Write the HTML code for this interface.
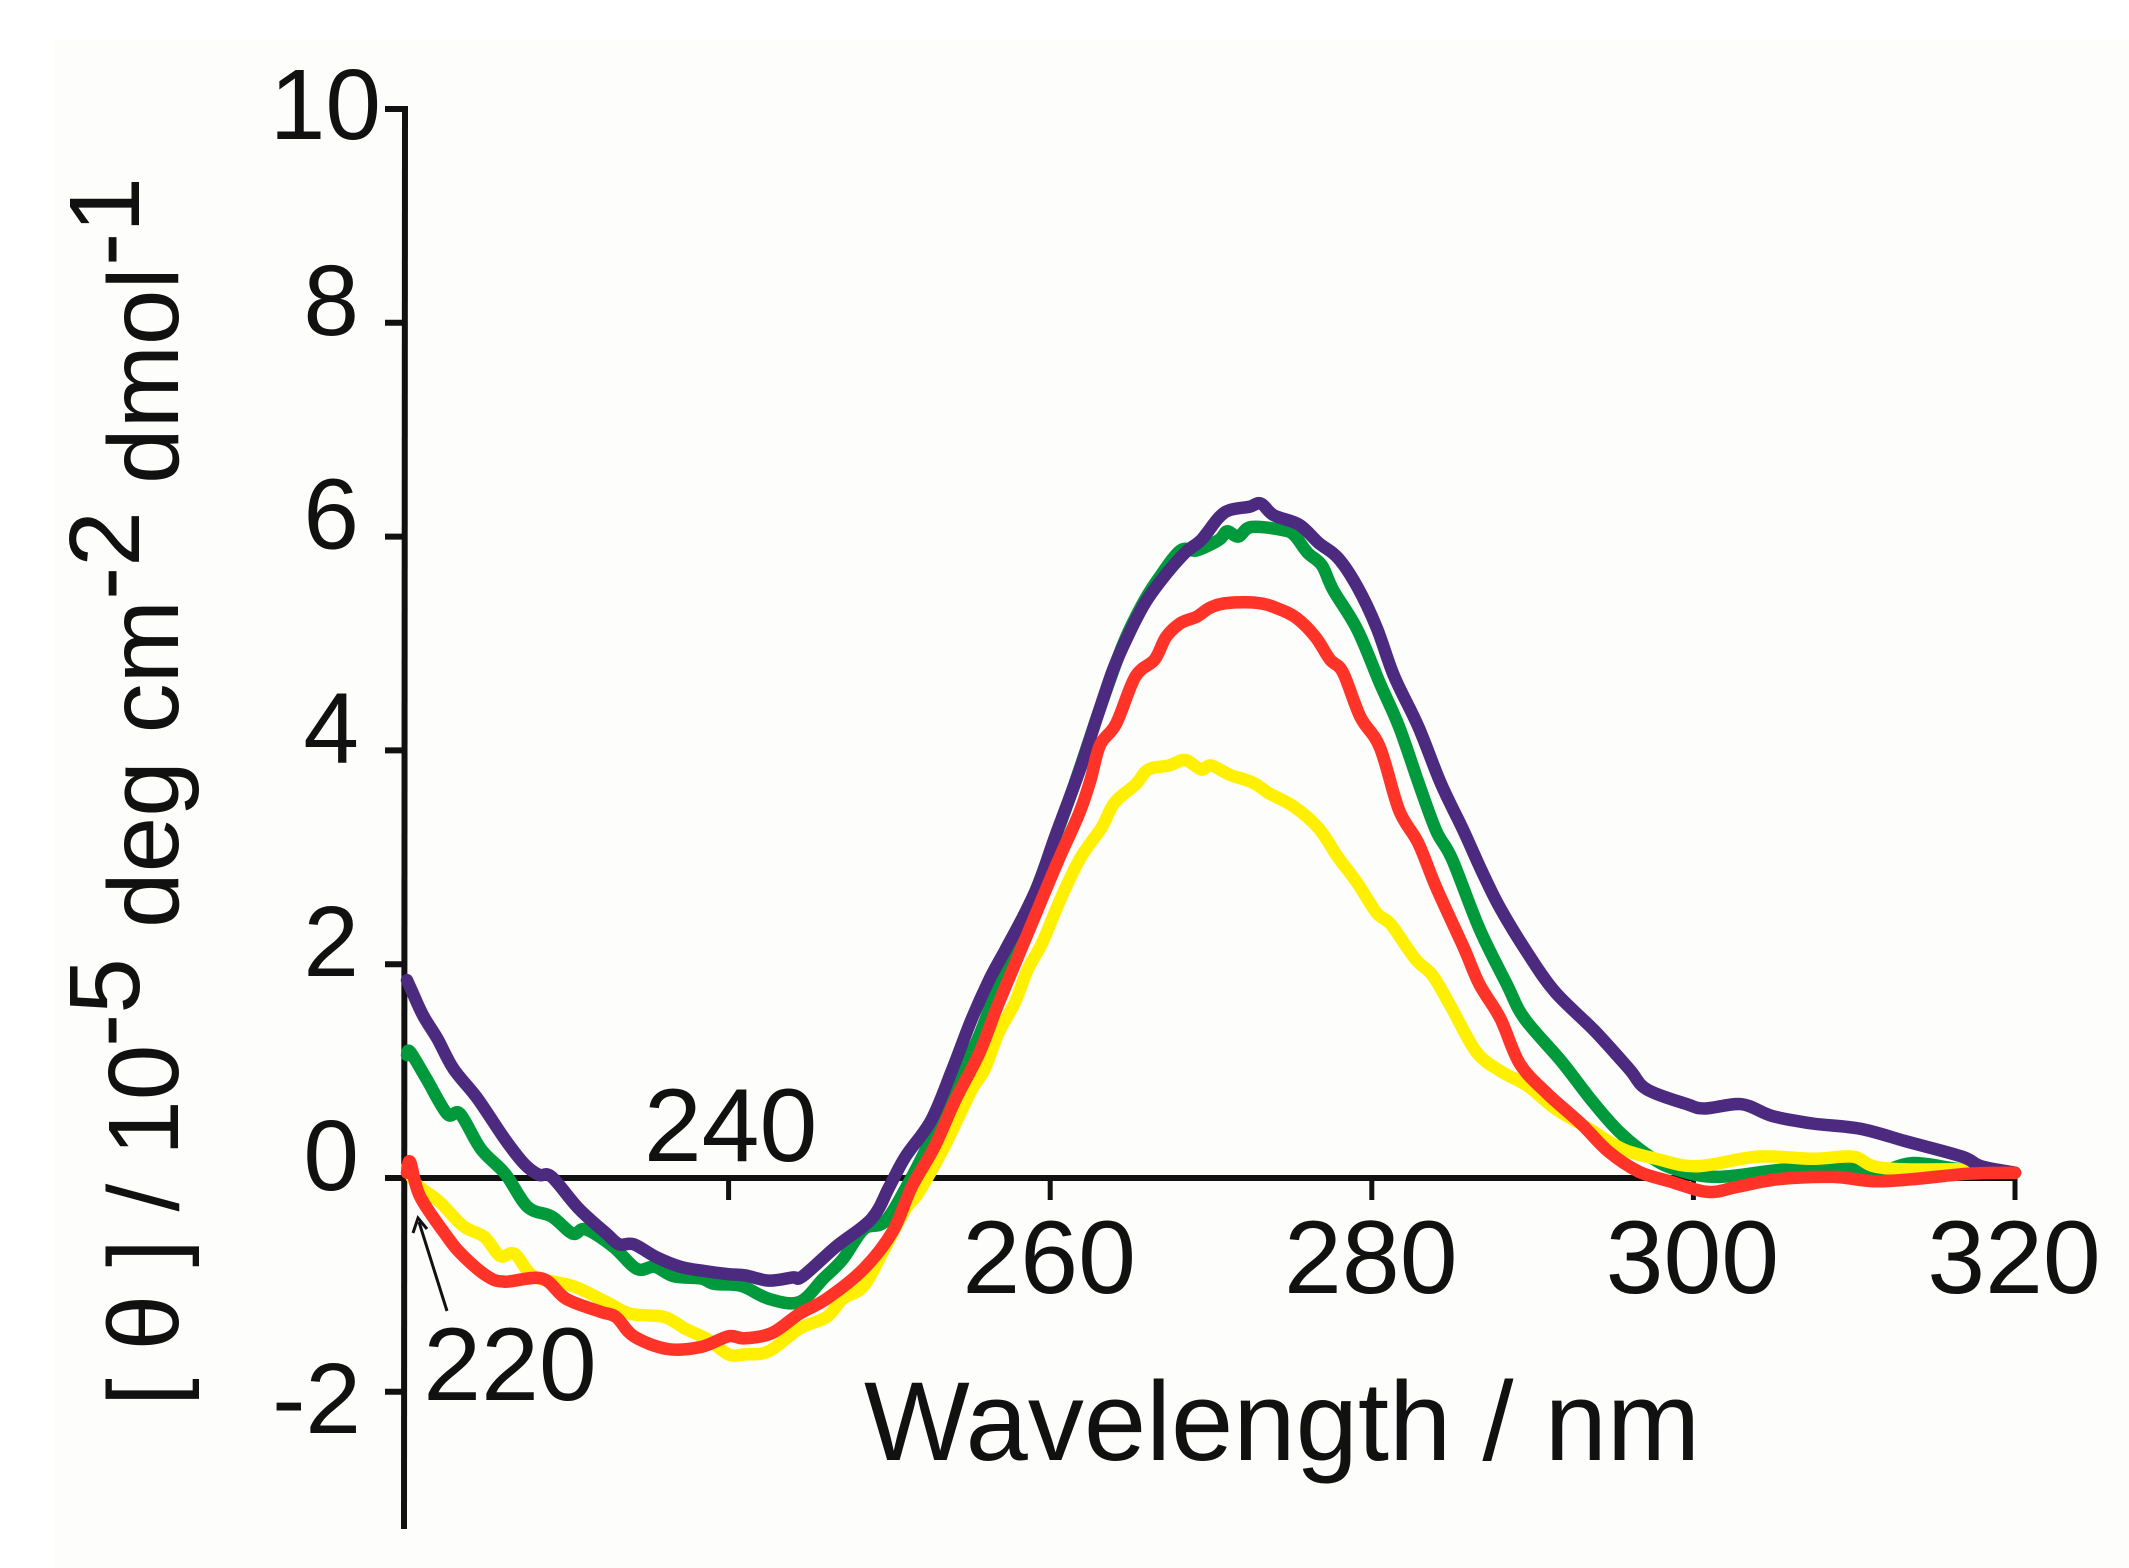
<!DOCTYPE html>
<html lang="en">
<head>
<meta charset="utf-8">
<title>CD spectra</title>
<style>
html,body{margin:0;padding:0;background:#fff;}
svg{display:block;}
text{font-family:"Liberation Sans",sans-serif;fill:#111;}
</style>
</head>
<body>
<svg id="chart" xmlns="http://www.w3.org/2000/svg" width="2129" height="1568" viewBox="0 0 2129 1568">
  <rect x="54" y="40" width="2075" height="1528" fill="#fdfdfb"/>
  <g id="series"></g>
  <g id="axes"></g>
  <g font-size="100">
    <text font-size="100" transform="translate(178,1406) rotate(-90)">[ θ ] / 10</text>
    <text transform="translate(139,1047) rotate(-90)">-5</text>
    <text transform="translate(178,928) rotate(-90)">deg cm</text>
    <text transform="translate(139,600) rotate(-90)">-2</text>
    <text transform="translate(178,484) rotate(-90)">dmol</text>
    <text transform="translate(139,266) rotate(-90)">-1</text>
  </g>
  <text x="864" y="1460" font-size="112">Wavelength / nm</text>
  <g fill="none" stroke="#111" stroke-width="3">
    <path d="M447 1311 L419 1222"/>
    <path d="M413 1233 L418 1218 L427 1229"/>
  </g>
</svg>
<script>
const xTicks = [220, 240, 260, 280, 300, 320];
const yTicks = [10, 8, 6, 4, 2, 0, -2];
const purpleWl = [220,220.3,221,221.9,222.9,224.4,226.1,227.3,228.2,229,230.7,232.4,233.2,234.1,235.5,237,238.5,240,241,242.5,244,244.6,246.7,248.9,250,251,252.6,253.9,255.1,256.2,257.2,258.3,259.3,260.3,261.8,263,263.9,264.8,265.9,267,268.4,269.4,270.5,271.2,272.4,273.1,273.9,275.5,276.7,277.9,279.1,280.3,281.4,282.9,284.3,285.7,286.9,288,289.7,291.4,293.9,296,297.1,299.6,300.7,303,304.9,307.4,310.4,313.3,316.7,317.9,320];
const purpleTheta = [1.85,1.75,1.52,1.30,1.02,0.74,0.36,0.13,0.03,0.01,-0.29,-0.52,-0.62,-0.62,-0.74,-0.83,-0.87,-0.90,-0.91,-0.96,-0.93,-0.92,-0.64,-0.38,-0.08,0.20,0.54,1.01,1.48,1.85,2.13,2.44,2.76,3.19,3.80,4.35,4.75,5.06,5.38,5.61,5.85,5.97,6.18,6.25,6.28,6.31,6.20,6.11,5.94,5.80,5.53,5.15,4.69,4.22,3.69,3.25,2.85,2.52,2.10,1.74,1.37,1.02,0.83,0.69,0.65,0.69,0.58,0.51,0.46,0.34,0.20,0.11,0.05];
const greenWl = [220,220.2,221.2,222.5,223.3,224.6,226.1,227.5,229,230.3,231.1,232.8,234.3,235.4,236.6,238.3,239.1,240.8,242.5,244.4,245.9,247.1,248.4,249.7,251,252.7,254,255.5,257,258.5,260,261.5,263,264.5,265.7,266.7,268.1,269.1,270.5,271,271.7,272.5,274.5,275.2,276,276.9,277.6,279.1,280.5,281.7,282.9,284,285,286.7,288.4,289.5,291.8,293.7,295.4,297.3,298.9,301.5,305.7,309.9,311.6,313.7,316.7,320];
const greenTheta = [1.15,1.18,0.93,0.60,0.60,0.27,0.04,-0.27,-0.36,-0.52,-0.48,-0.64,-0.85,-0.83,-0.92,-0.94,-0.99,-1.01,-1.13,-1.16,-0.94,-0.76,-0.48,-0.41,-0.10,0.40,0.85,1.30,1.90,2.45,3.05,3.68,4.35,4.98,5.36,5.60,5.87,5.87,5.97,6.05,6.00,6.09,6.06,6.01,5.85,5.73,5.50,5.13,4.63,4.22,3.70,3.25,2.98,2.33,1.81,1.49,1.09,0.72,0.43,0.20,0.08,0.01,0.08,0.09,0.06,0.14,0.08,0.05];
const yellowWl = [220,220.6,222,223.5,224.8,225.8,226.7,227.9,230.3,232.4,233.9,236,237.3,238.7,240,241,242.5,244.4,246.1,247.1,248.4,249.7,251,251.8,253.4,255.1,255.9,256.8,257.8,258.6,259.5,260.7,261.9,263.2,264,265.3,266.1,267.4,268.4,269.4,270,271.2,272.6,273.6,275.2,276.7,277.9,279.1,280.3,281.2,282.7,283.8,285,286.5,288,289.7,291.4,293.5,295.6,297.7,300.2,304,307.4,309.9,311.2,313.3,317,320];
const yellowTheta = [0.10,-0.06,-0.22,-0.45,-0.55,-0.73,-0.71,-0.92,-1.01,-1.16,-1.27,-1.30,-1.41,-1.51,-1.65,-1.65,-1.62,-1.41,-1.30,-1.13,-1.01,-0.66,-0.29,-0.14,0.29,0.82,1.01,1.36,1.64,1.95,2.20,2.63,3.00,3.28,3.51,3.68,3.82,3.86,3.91,3.82,3.86,3.77,3.70,3.60,3.47,3.27,3.00,2.76,2.48,2.37,2.05,1.89,1.58,1.18,1.00,0.86,0.65,0.46,0.27,0.18,0.11,0.20,0.18,0.20,0.11,0.08,0.08,0.05];
const redWl = [220,220.2,220.8,222.5,223.5,225,226.1,228.4,229.9,232,233,234.1,236.2,238.3,240,241,242.7,244.4,246.1,248.4,250.2,251.4,252.8,254.1,255.6,256.7,258,259.3,260.5,261.8,262.5,263.1,264.1,265.3,266.5,267.2,268.1,269.1,270,271.1,272.9,274.1,275.3,276.5,277.4,278.2,279.3,280.5,281.7,282.9,284,285.7,286.7,288,289.2,290.9,293,294.7,296.6,298.5,300.9,302.8,305.3,308.7,311.2,313.7,317.1,320];
const redTheta = [0.05,0.15,-0.17,-0.55,-0.73,-0.92,-0.97,-0.94,-1.13,-1.25,-1.30,-1.48,-1.60,-1.58,-1.48,-1.50,-1.45,-1.27,-1.13,-0.85,-0.50,-0.08,0.29,0.73,1.17,1.60,2.07,2.54,2.97,3.41,3.72,4.05,4.25,4.69,4.85,5.06,5.19,5.25,5.34,5.38,5.38,5.33,5.24,5.06,4.85,4.73,4.31,4.03,3.44,3.13,2.72,2.16,1.81,1.49,1.07,0.79,0.51,0.25,0.06,-0.03,-0.13,-0.08,-0.01,0.01,-0.03,-0.01,0.04,0.05];

const NS = 'http://www.w3.org/2000/svg';
const xScale = function (nm) { return 407 + (nm - 220) * 16.08; };
const yScale = function (v) { return 1178 - v * 106.9; };
const axisX = 405;
const seriesGroup = document.getElementById('series');
const axesGroup = document.getElementById('axes');

function smoothPath(wl, theta) {
  const p = wl.map(function (w, i) { return [xScale(w), yScale(theta[i])]; });
  let d = 'M' + p[0][0].toFixed(1) + ' ' + p[0][1].toFixed(1);
  for (let i = 0; i < p.length - 1; i++) {
    const a = p[Math.max(i - 1, 0)], b = p[i], c = p[i + 1], e = p[Math.min(i + 2, p.length - 1)];
    const c1x = b[0] + (c[0] - a[0]) / 6, c1y = b[1] + (c[1] - a[1]) / 6;
    const c2x = c[0] - (e[0] - b[0]) / 6, c2y = c[1] - (e[1] - b[1]) / 6;
    d += 'C' + c1x.toFixed(1) + ' ' + c1y.toFixed(1) + ' ' + c2x.toFixed(1) + ' ' + c2y.toFixed(1) + ' ' + c[0].toFixed(1) + ' ' + c[1].toFixed(1);
  }
  return d;
}

function addLine(x1, y1, x2, y2, width) {
  const l = document.createElementNS(NS, 'line');
  l.setAttribute('x1', x1);
  l.setAttribute('y1', y1);
  l.setAttribute('x2', x2);
  l.setAttribute('y2', y2);
  l.setAttribute('stroke', '#111');
  l.setAttribute('stroke-width', width);
  axesGroup.appendChild(l);
  return l;
}

function addLabel(str, x, y, anchor, size) {
  const t = document.createElementNS(NS, 'text');
  t.setAttribute('x', x);
  t.setAttribute('y', y);
  t.setAttribute('font-size', size);
  t.setAttribute('text-anchor', anchor);
  t.textContent = str;
  axesGroup.appendChild(t);
  return t;
}

const yAxisLine = addLine(axisX, yScale(10) - 3, axisX - 1, 1529, 6);


const xAxisLine = addLine(385, yScale(0), xScale(320) + 1, yScale(0), 6);



yTicks.forEach(function (v) {
  const tick = addLine(385, yScale(v), axisX, yScale(v), 6);
  
  
  let lx = 359, ly = yScale(v) + 12;
  if (v === 10) { lx = 381; ly = yScale(v) + 30; }
  if (v === -2) { lx = 361; ly = yScale(v) + 41; }
  const label = addLabel(String(v), lx, ly, 'end', 100);
  
  
});

xTicks.forEach(function (v) {
  if (v !== 220) {
    const tick = addLine(xScale(v), yScale(0), xScale(v), yScale(0) + 22, 5);
    
    
  }
  let lx = xScale(v) - 1, ly = 1293;
  if (v === 220) { lx = xScale(v) + 103; ly = 1400; }
  if (v === 240) { lx = xScale(v) + 2; ly = 1161; }
  const label = addLabel(String(v), lx, ly, 'middle', 104);
  
  
});

function addSeries(wl, theta, colour) {
  const path = document.createElementNS(NS, 'path');
  path.setAttribute('d', smoothPath(wl, theta));
  path.setAttribute('fill', 'none');
  path.setAttribute('stroke', colour);
  path.setAttribute('stroke-width', '12.5');
  path.setAttribute('stroke-linejoin', 'round');
  path.setAttribute('stroke-linecap', 'round');
  seriesGroup.appendChild(path);
  return path;
}

const greenLine = addSeries(greenWl, greenTheta, '#009a3d');


const yellowLine = addSeries(yellowWl, yellowTheta, '#fff000');


const purpleLine = addSeries(purpleWl, purpleTheta, '#4b2a80');


const redLine = addSeries(redWl, redTheta, '#ff3328');



document.getElementById('chart').appendChild(seriesGroup);
</script>
</body>
</html>
